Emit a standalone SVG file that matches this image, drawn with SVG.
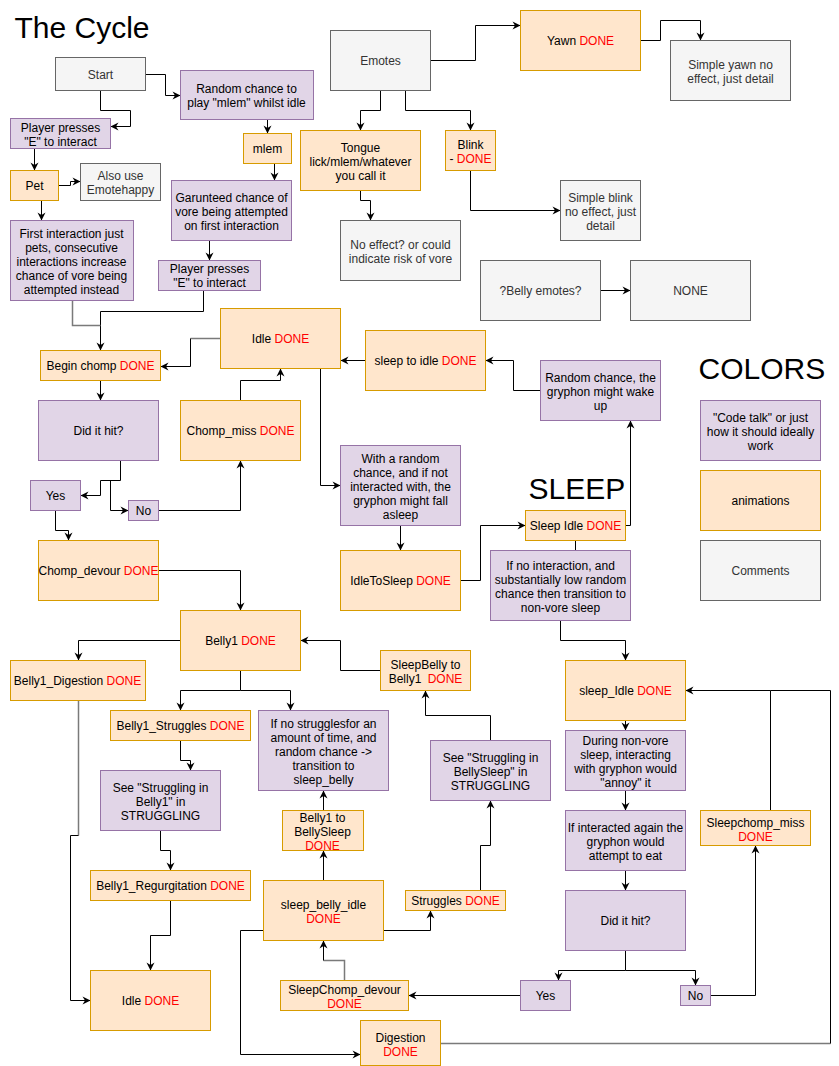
<svg xmlns="http://www.w3.org/2000/svg" width="839" height="1066" viewBox="0 0 839 1066">
<defs>
<style>
text{font-family:"Liberation Sans",Arial,sans-serif;font-size:12px;text-anchor:middle;fill:#000}
.title{font-size:30px;text-anchor:start}
.r{fill:#ff0000}
.g text,text.gt{fill:#333333}
.p{fill:#e1d5e7;stroke:#9673a6;stroke-width:1}
.o{fill:#ffe6cc;stroke:#d79b00;stroke-width:1}
.c{fill:#f5f5f5;stroke:#666666;stroke-width:1}
.e{fill:none;stroke:#000;stroke-width:1}
.ea{fill:none;stroke:#000;stroke-width:1;marker-end:url(#ar)}
.gr{stroke:#7a7a7a;stroke-width:1.5}
</style>
<marker id="ar" markerUnits="userSpaceOnUse" markerWidth="9" markerHeight="9" refX="8" refY="4" orient="auto" overflow="visible">
<path d="M0,0 L8,4 L0,8 L2.5,4 Z" fill="#000"/>
</marker>
</defs>
<rect x="0" y="0" width="839" height="1066" fill="#ffffff"/>
<g transform="translate(0.5,0.5)">
<text class="title" x="14" y="37">The Cycle</text>
<text class="title" x="528" y="498">SLEEP</text>
<text class="title" x="698" y="378">COLORS</text>

<g id="connectors">
<path class="ea" d="M145,74 H165 V95 H180"/>
<path class="ea" d="M100,90 V110 H130 V126 H110"/>
<path class="ea" d="M34,148 V170"/>
<path class="ea" d="M58,185 H70 V181 H80"/>
<path class="ea" d="M41,200 V220"/>
<path class="ea" d="M267,119 V133"/>
<path class="ea" d="M274,163 V180"/>
<path class="ea" d="M209,240 V260"/>
<path class="ea" d="M203,290 V311 H100 V350"/>
<path class="e gr" d="M72,300 V325 H100"/>
<path class="e gr" d="M220,338 H190"/>
<path class="ea" d="M190,338 V366 H160"/>
<path class="ea" d="M100,380 V400"/>
<path class="ea" d="M120,460 V480 H100 V495 H80"/>
<path class="ea" d="M110,480 V510 H128"/>
<path class="ea" d="M158,510 H240 V460"/>
<path class="ea" d="M240,400 V380 H280 V368"/>
<path class="ea" d="M55,510 V530 H68 V540"/>
<path class="ea" d="M158,570 H240 V610"/>
<path class="ea" d="M180,640 H78 V660"/>
<path class="ea" d="M240,670 V690 H180 V710"/>
<path class="ea" d="M240,690 H290 V710"/>
<path class="ea" d="M180,740 V760 H190 V770"/>
<path class="ea" d="M160,830 V850 H170 V870"/>
<path class="ea" d="M170,900 V935 H150 V970"/>
<path class="e gr" d="M78,700 V835"/>
<path class="ea" d="M78,835 H70 V1000 H90"/>
<path class="ea" d="M430,60 H475 V25 H520"/>
<path class="ea" d="M640,40 H660 V20 H700 V40"/>
<path class="ea" d="M380,90 V110 H360 V130"/>
<path class="ea" d="M405,90 V110 H470 V130"/>
<path class="ea" d="M360,190 V200 H370 V220"/>
<path class="ea" d="M470,170 V210 H560"/>
<path class="ea" d="M600,290 H630"/>
<path class="ea" d="M365,360 H340"/>
<path class="ea" d="M540,390 H513 V360 H485"/>
<path class="ea" d="M320,368 V485 H340"/>
<path class="ea" d="M400,525 V550"/>
<path class="ea" d="M460,580 H480 V525 H525"/>
<path class="ea" d="M625,525 H630 V420"/>
<path class="e" d="M575,540 V550"/>
<path class="ea" d="M560,620 V640 H625 V660"/>
<path class="ea" d="M625,720 V730"/>
<path class="ea" d="M625,790 V810"/>
<path class="ea" d="M625,870 V890"/>
<path class="ea" d="M625,950 V970 H558 V980"/>
<path class="ea" d="M625,970 H695 V985"/>
<path class="ea" d="M520,995 H408"/>
<path class="ea" d="M710,995 H755 V845"/>
<path class="ea" d="M770,810 V690 H685"/>
<path class="e gr" d="M440,1043 H830"/>
<path class="e" d="M830,1043 V690 H770"/>
<path class="e gr" d="M344,980 V960 H323"/>
<path class="ea" d="M323,960 V940"/>
<path class="ea" d="M323,880 V850"/>
<path class="ea" d="M323,810 V790"/>
<path class="ea" d="M383,930 H430 V910"/>
<path class="ea" d="M480,890 V845 H490 V800"/>
<path class="ea" d="M490,740 V715 H425 V690"/>
<path class="ea" d="M380,670 H340 V640 H300"/>
<path class="ea" d="M263,930 H240 V1054 H360"/>
</g>

<g id="start" class="g"><rect class="c" x="55" y="57" width="90" height="33"/><text x="100" y="78">Start</text></g>
<g id="random_mlem"><rect class="p" x="180" y="70" width="133" height="49"/><text x="246" y="92">Random chance to</text><text x="246" y="106">play "mlem" whilst idle</text></g>
<g id="player_presses_1"><rect class="p" x="10" y="118" width="100" height="30"/><text x="60" y="131">Player presses</text><text x="60" y="145">"E" to interact</text></g>
<g id="pet"><rect class="o" x="10" y="170" width="48" height="30"/><text x="34" y="189">Pet</text></g>
<g id="also_use" class="g"><rect class="c" x="80" y="163" width="80" height="37"/><text x="120" y="179">Also use</text><text x="120" y="193">Emotehappy</text></g>
<g id="first_interaction"><rect class="p" x="10" y="220" width="123" height="80"/><text x="71" y="237">First interaction just</text><text x="71" y="251">pets, consecutive</text><text x="71" y="265">interactions increase</text><text x="71" y="279">chance of vore being</text><text x="71" y="293">attempted instead</text></g>
<g id="mlem"><rect class="o" x="243" y="133" width="48" height="30"/><text x="267" y="152">mlem</text></g>
<g id="garunteed"><rect class="p" x="171" y="180" width="120" height="60"/><text x="231" y="201">Garunteed chance of</text><text x="231" y="215">vore being attempted</text><text x="231" y="229">on first interaction</text></g>
<g id="player_presses_2"><rect class="p" x="158" y="260" width="102" height="30"/><text x="209" y="272">Player presses</text><text x="209" y="286">"E" to interact</text></g>
<g id="begin_chomp"><rect class="o" x="40" y="350" width="120" height="30"/><text x="100" y="369">Begin chomp <tspan class="r">DONE</tspan></text></g>
<g id="idle_top"><rect class="o" x="220" y="308" width="120" height="60"/><text x="280" y="342">Idle <tspan class="r">DONE</tspan></text></g>
<g id="did_it_hit_1"><rect class="p" x="38" y="400" width="120" height="60"/><text x="98" y="434">Did it hit?</text></g>
<g id="yes_1"><rect class="p" x="30" y="480" width="50" height="30"/><text x="55" y="499">Yes</text></g>
<g id="no_1"><rect class="p" x="128" y="500" width="30" height="20"/><text x="143" y="514">No</text></g>
<g id="chomp_miss"><rect class="o" x="180" y="400" width="120" height="60"/><text x="240" y="434">Chomp_miss <tspan class="r">DONE</tspan></text></g>
<g id="chomp_devour"><rect class="o" x="38" y="540" width="120" height="60"/><text x="98" y="574">Chomp_devour <tspan class="r">DONE</tspan></text></g>
<g id="belly1"><rect class="o" x="180" y="610" width="120" height="60"/><text x="240" y="644">Belly1 <tspan class="r">DONE</tspan></text></g>
<g id="belly1_digestion"><rect class="o" x="10" y="660" width="135" height="40"/><text x="77" y="684">Belly1_Digestion <tspan class="r">DONE</tspan></text></g>
<g id="belly1_struggles"><rect class="o" x="110" y="710" width="140" height="30"/><text x="180" y="729">Belly1_Struggles <tspan class="r">DONE</tspan></text></g>
<g id="if_no_struggles"><rect class="p" x="258" y="710" width="130" height="80"/><text x="323" y="727">If no strugglesfor an</text><text x="323" y="741">amount of time, and</text><text x="323" y="755">random chance -&gt;</text><text x="323" y="769">transition to</text><text x="323" y="783">sleep_belly</text></g>
<g id="see_struggling_belly1"><rect class="p" x="100" y="770" width="120" height="60"/><text x="160" y="791">See "Struggling in</text><text x="160" y="805">Belly1" in</text><text x="160" y="819">STRUGGLING</text></g>
<g id="belly1_regurgitation"><rect class="o" x="90" y="870" width="160" height="30"/><text x="170" y="889">Belly1_Regurgitation <tspan class="r">DONE</tspan></text></g>
<g id="idle_bottom"><rect class="o" x="90" y="970" width="120" height="60"/><text x="150" y="1004">Idle <tspan class="r">DONE</tspan></text></g>
<g id="emotes" class="g"><rect class="c" x="330" y="30" width="100" height="60"/><text x="380" y="64">Emotes</text></g>
<g id="yawn"><rect class="o" x="520" y="10" width="120" height="60"/><text x="580" y="44">Yawn <tspan class="r">DONE</tspan></text></g>
<g id="simple_yawn" class="g"><rect class="c" x="670" y="40" width="120" height="60"/><text x="730" y="68">Simple yawn no</text><text x="730" y="82">effect, just detail</text></g>
<g id="tongue"><rect class="o" x="300" y="130" width="120" height="60"/><text x="360" y="151">Tongue</text><text x="360" y="165">lick/mlem/whatever</text><text x="360" y="179">you call it</text></g>
<g id="blink"><rect class="o" x="445" y="130" width="50" height="40"/><text x="470" y="148">Blink</text><text x="470" y="162">- <tspan class="r">DONE</tspan></text></g>
<g id="no_effect" class="g"><rect class="c" x="340" y="220" width="120" height="60"/><text x="400" y="248">No effect? or could</text><text x="400" y="262">indicate risk of vore</text></g>
<g id="simple_blink" class="g"><rect class="c" x="560" y="180" width="80" height="60"/><text x="600" y="201">Simple blink</text><text x="600" y="215">no effect, just</text><text x="600" y="229">detail</text></g>
<g id="belly_emotes" class="g"><rect class="c" x="480" y="260" width="120" height="60"/><text x="540" y="294">?Belly emotes?</text></g>
<g id="none" class="g"><rect class="c" x="630" y="260" width="120" height="60"/><text x="690" y="294">NONE</text></g>
<g id="sleep_to_idle"><rect class="o" x="365" y="330" width="120" height="60"/><text x="425" y="364">sleep to idle <tspan class="r">DONE</tspan></text></g>
<g id="random_wake"><rect class="p" x="540" y="360" width="120" height="60"/><text x="600" y="381">Random chance, the</text><text x="600" y="395">gryphon might wake</text><text x="600" y="409">up</text></g>
<g id="fall_asleep"><rect class="p" x="340" y="445" width="120" height="80"/><text x="400" y="462">With a random</text><text x="400" y="476">chance, and if not</text><text x="400" y="490">interacted with, the</text><text x="400" y="504">gryphon might fall</text><text x="400" y="518">asleep</text></g>
<g id="idle_to_sleep"><rect class="o" x="340" y="550" width="120" height="60"/><text x="400" y="584">IdleToSleep <tspan class="r">DONE</tspan></text></g>
<g id="sleep_idle_small"><rect class="o" x="525" y="510" width="100" height="30"/><text x="575" y="529">Sleep Idle <tspan class="r">DONE</tspan></text></g>
<g id="if_no_interaction"><rect class="p" x="490" y="550" width="140" height="70"/><text x="560" y="569">If no interaction, and</text><text x="560" y="583">substantially low random</text><text x="560" y="597">chance then transition to</text><text x="560" y="611">non-vore sleep</text></g>
<g id="sleep_idle"><rect class="o" x="565" y="660" width="120" height="60"/><text x="625" y="694">sleep_Idle <tspan class="r">DONE</tspan></text></g>
<g id="during_sleep"><rect class="p" x="565" y="730" width="120" height="60"/><text x="625" y="744">During non-vore</text><text x="625" y="758">sleep, interacting</text><text x="625" y="772">with gryphon would</text><text x="625" y="786">"annoy" it</text></g>
<g id="if_interacted"><rect class="p" x="565" y="810" width="120" height="60"/><text x="625" y="831">If interacted again the</text><text x="625" y="845">gryphon would</text><text x="625" y="859">attempt to eat</text></g>
<g id="did_it_hit_2"><rect class="p" x="565" y="890" width="120" height="60"/><text x="625" y="924">Did it hit?</text></g>
<g id="yes_2"><rect class="p" x="520" y="980" width="50" height="30"/><text x="545" y="999">Yes</text></g>
<g id="no_2"><rect class="p" x="680" y="985" width="30" height="20"/><text x="695" y="999">No</text></g>
<g id="sleepchomp_miss"><rect class="o" x="700" y="810" width="110" height="35"/><text x="755" y="826">Sleepchomp_miss</text><text x="755" y="840" class="r">DONE</text></g>
<g id="sleepchomp_devour"><rect class="o" x="280" y="980" width="128" height="30"/><text x="344" y="993">SleepChomp_devour</text><text x="344" y="1007" class="r">DONE</text></g>
<g id="sleep_belly_idle"><rect class="o" x="263" y="880" width="120" height="60"/><text x="323" y="908">sleep_belly_idle</text><text x="323" y="922" class="r">DONE</text></g>
<g id="belly1_to_bellysleep"><rect class="o" x="282" y="810" width="81" height="40"/><text x="322" y="821">Belly1 to</text><text x="322" y="835">BellySleep</text><text x="322" y="849" class="r">DONE</text></g>
<g id="struggles"><rect class="o" x="405" y="890" width="100" height="20"/><text x="455" y="904">Struggles <tspan class="r">DONE</tspan></text></g>
<g id="see_struggling_bellysleep"><rect class="p" x="430" y="740" width="120" height="60"/><text x="490" y="761">See "Struggling in</text><text x="490" y="775">BellySleep" in</text><text x="490" y="789">STRUGGLING</text></g>
<g id="sleepbelly_to_belly1"><rect class="o" x="380" y="650" width="90" height="40"/><text x="425" y="668">SleepBelly to</text><text x="425" y="682">Belly1  <tspan class="r" dx="3">DONE</tspan></text></g>
<g id="digestion"><rect class="o" x="360" y="1020" width="80" height="45"/><text x="400" y="1041">Digestion</text><text x="400" y="1055" class="r">DONE</text></g>
<g id="legend_code"><rect class="p" x="700" y="400" width="120" height="60"/><text x="760" y="421">"Code talk" or just</text><text x="760" y="435">how it should ideally</text><text x="760" y="449">work</text></g>
<g id="legend_animations"><rect class="o" x="700" y="470" width="120" height="60"/><text x="760" y="504">animations</text></g>
<g id="legend_comments" class="g"><rect class="c" x="700" y="540" width="120" height="60"/><text x="760" y="574">Comments</text></g>
</g>
</svg>
